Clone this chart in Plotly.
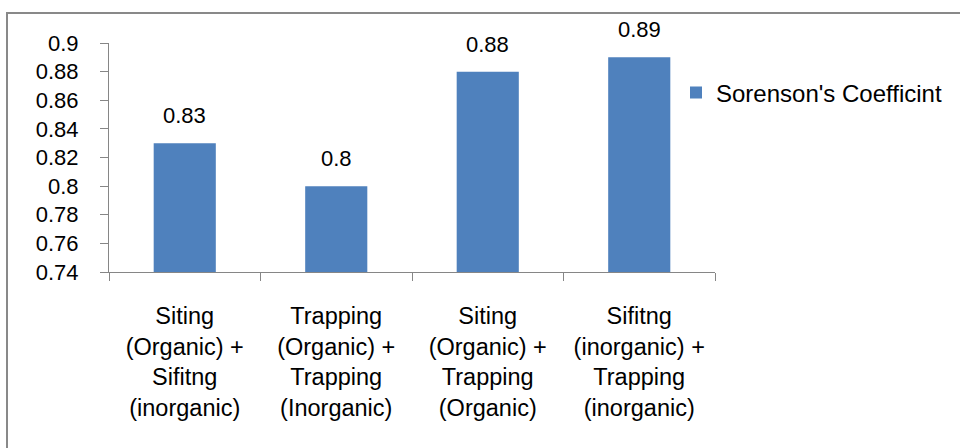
import plotly.graph_objects as go

categories = [
    "Siting<br>(Organic) +<br>Sifitng<br>(inorganic)",
    "Trapping<br>(Organic) +<br>Trapping<br>(Inorganic)",
    "Siting<br>(Organic) +<br>Trapping<br>(Organic)",
    "Sifitng<br>(inorganic) +<br>Trapping<br>(inorganic)",
]
values = [0.83, 0.80, 0.88, 0.89]
series_name = "Sorenson's Coefficint"
y_ticks = [0.74, 0.76, 0.78, 0.80, 0.82, 0.84, 0.86, 0.88, 0.90]
y_ticktext = ["0.74", "0.76", "0.78", "0.8", "0.82", "0.84", "0.86", "0.88", "0.9"]

W, H = 960, 448
L, R, T, B = 109, 715, 43, 272
FONT = "Liberation Sans"
FS = 22
BAR = "#4F81BD"
AX = "#868686"

def px(x):
    return (x - L) / (R - L)

def py(y):
    return (B - y) / (B - T)

fig = go.Figure()
fig.add_trace(go.Bar(
    x=categories, y=values, name=series_name,
    marker=dict(color=BAR, line=dict(width=0)),
    showlegend=True,
))

for c, v in zip(categories, values):
    fig.add_annotation(
        x=c, y=v, xref="x", yref="y", text=f"{v:g}", showarrow=False,
        yanchor="bottom", yshift=13,
        font=dict(family=FONT, size=FS, color="#000000"),
    )

fig.add_shape(
    type="rect", xref="paper", yref="paper",
    x0=px(7), x1=px(963), y0=py(13), y1=py(470),
    line=dict(color="#898989", width=2), fillcolor="rgba(0,0,0,0)",
    layer="below",
)

fig.update_layout(
    width=W, height=H,
    margin=dict(l=L, r=W - R, t=T, b=H - B, pad=0),
    paper_bgcolor="white", plot_bgcolor="white",
    font=dict(family=FONT, size=FS, color="#000000"),
    bargap=0.59,
    showlegend=True,
    legend=dict(
        x=px(676), y=py(93), xanchor="left", yanchor="middle",
        font=dict(family=FONT, size=24, color="#000000"),
        bgcolor="rgba(0,0,0,0)",
    ),
    xaxis=dict(
        showline=True, linecolor=AX, linewidth=1,
        ticks="outside", tickson="boundaries", ticklen=8, tickcolor=AX,
        showgrid=False, zeroline=False,
        tickfont=dict(family=FONT, size=23.5, color="#000000"),
        ticklabelstandoff=23,
    ),
    yaxis=dict(
        range=[0.74, 0.90], tickvals=y_ticks, ticktext=y_ticktext,
        showline=True, linecolor=AX, linewidth=1,
        ticks="outside", ticklen=8, tickcolor=AX,
        showgrid=False, zeroline=False,
        tickfont=dict(family=FONT, size=FS, color="#000000"),
        ticklabelstandoff=17,
    ),
)

fig.write_html(
    "out.html",
    config={"displayModeBar": False},
    post_script="document.body.style.margin='0';",
)
